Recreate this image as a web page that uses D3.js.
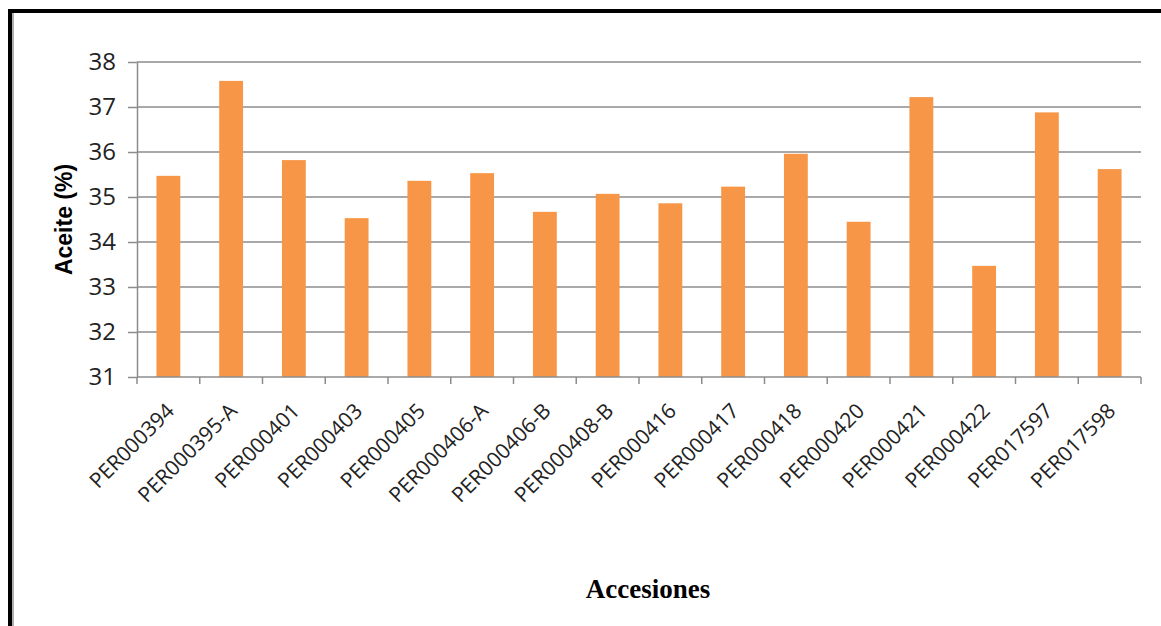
<!DOCTYPE html>
<html lang="es">
<head>
    <meta charset="UTF-8">
    <title>Aceite por accesión</title>
    <script src="https://d3js.org/d3.v7.min.js"></script>
    <style>
        body {
            margin: 0;
            background: #fff;
        }

        .grid line {
            stroke: #8c8c8c;
            stroke-width: 1.5px;
        }

        .axis path,
        .axis line {
            stroke: #8c8c8c;
            stroke-width: 1.5px;
        }

        .axis text {
            font-family: "Open Sans", sans-serif;
            fill: #222;
        }
    </style>
</head>
<body>
    <div id="chart"></div>

    <script>
        const accessions = ["PER000394", "PER000395-A", "PER000401", "PER000403", "PER000405",
            "PER000406-A", "PER000406-B", "PER000408-B", "PER000416", "PER000417", "PER000418",
            "PER000420", "PER000421", "PER000422", "PER017597", "PER017598"];
        const oilValues = [35.47, 37.58, 35.82, 34.53, 35.36, 35.53, 34.67, 35.07, 34.86, 35.23,
            35.96, 34.45, 37.22, 33.47, 36.88, 35.62];
        const yTicks = [31, 32, 33, 34, 35, 36, 37, 38];

        const width = 1161;
        const height = 626;
        const margin = {top: 62, right: 20, bottom: 249, left: 137};

        const svg = d3.select("#chart")
            .append("svg")
            .attr("width", width)
            .attr("height", height);

        // frame round the figure
        svg.append("rect")
            .attr("x", 8).attr("y", 9)
            .attr("width", width).attr("height", 4)
            .attr("fill", "#000");
        svg.append("rect")
            .attr("x", 8).attr("y", 9)
            .attr("width", 4).attr("height", height)
            .attr("fill", "#000");
        svg.append("rect")
            .attr("x", 12).attr("y", 13)
            .attr("width", 2).attr("height", height)
            .attr("fill", "#b0b0b0");

        const x = d3.scaleBand()
            .domain(accessions)
            .range([margin.left, 1141])
            .paddingInner(0.62)
            .paddingOuter(0.31);

        const y = d3.scaleLinear()
            .domain([31, 38])
            .range([height - margin.bottom, margin.top]);

        // gridlines
        svg.append("g")
            .attr("class", "grid")
            .selectAll("line")
            .data(yTicks.slice(1))
            .enter()
            .append("line")
            .attr("x1", margin.left)
            .attr("x2", 1141)
            .attr("y1", d => y(d))
            .attr("y2", d => y(d));

        // bars
        svg.append("g")
            .selectAll("rect")
            .data(accessions)
            .enter()
            .append("rect")
            .attr("x", d => x(d))
            .attr("width", x.bandwidth())
            .attr("y", (d, i) => y(oilValues[i]))
            .attr("height", (d, i) => y(31) - y(oilValues[i]))
            .attr("fill", "#f79646");

        // y axis
        const yAxis = svg.append("g")
            .attr("class", "axis")
            .attr("transform", `translate(${margin.left},0)`)
            .call(d3.axisLeft(y).tickValues(yTicks).tickFormat(d3.format("d"))
                .tickSize(9).tickPadding(12).tickSizeOuter(0));
        yAxis.selectAll("text").style("font-size", "24px");

        // x axis with ticks between the bands
        const bounds = d3.range(accessions.length + 1).map(i => margin.left + i * (1141 - margin.left) / accessions.length);
        const xAxisG = svg.append("g")
            .attr("class", "axis")
            .attr("transform", `translate(0,${y(31)})`);
        xAxisG.append("line")
            .attr("x1", margin.left)
            .attr("x2", 1141);
        xAxisG.selectAll(".tk")
            .data(bounds)
            .enter()
            .append("line")
            .attr("class", "tk")
            .attr("x1", d => d).attr("x2", d => d)
            .attr("y1", 0).attr("y2", 7);

        xAxisG.selectAll(".lbl")
            .data(accessions)
            .enter()
            .append("text")
            .attr("class", "lbl")
            .attr("text-anchor", "end")
            .attr("transform", d => `translate(${x(d) + x.bandwidth() / 2 + 2},${30}) rotate(-45)`)
            .attr("dy", "0.35em")
            .style("font-size", "21px")
            .text(d => d);

        // axis titles
        svg.append("text")
            .attr("transform", `translate(72,${(y(31) + y(38)) / 2}) rotate(-90)`)
            .attr("text-anchor", "middle")
            .style("font-family", "'Liberation Sans', Arial, sans-serif")
            .style("font-weight", "bold")
            .style("font-size", "23px")
            .text("Aceite (%)");

        svg.append("text")
            .attr("x", 648)
            .attr("y", 598)
            .attr("text-anchor", "middle")
            .style("font-family", "'Liberation Serif', 'Times New Roman', serif")
            .style("font-weight", "bold")
            .style("font-size", "27px")
            .text("Accesiones");
    </script>
</body>
</html>
